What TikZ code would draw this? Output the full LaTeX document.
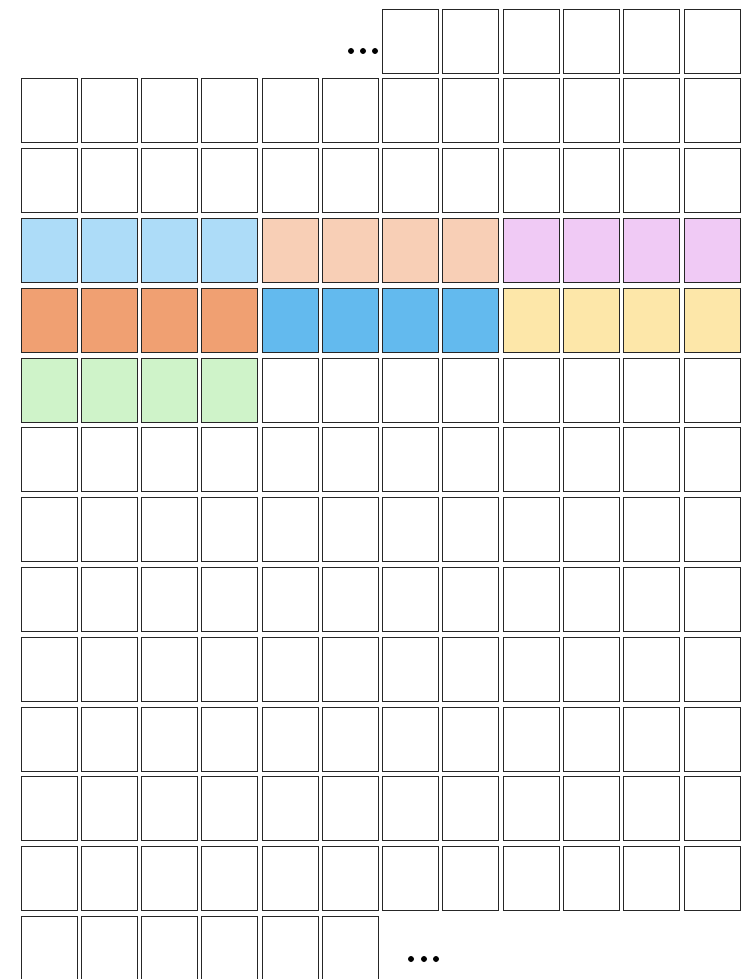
\documentclass[tikz,border=0pt]{standalone}
\definecolor{lblue}{HTML}{ADDCF8}
\definecolor{peach}{HTML}{F8CFB6}
\definecolor{lav}{HTML}{F0CAF5}
\definecolor{orng}{HTML}{F0A072}
\definecolor{dblue}{HTML}{63BAEE}
\definecolor{yell}{HTML}{FDE7A9}
\definecolor{lgreen}{HTML}{CFF3C9}
\begin{document}
\begin{tikzpicture}[x=1pt,y=-1pt,
  cell/.style={draw=black!85,line width=0.9pt,minimum width=56pt,minimum height=64pt,inner sep=0pt,outer sep=0pt},
  dotn/.style={circle,fill=black,minimum size=6pt,inner sep=0pt}]
\useasboundingbox (0,0) rectangle (747,979);
\clip (0,0) rectangle (747,979);
% top partial row
\foreach \c in {6,...,11}
  \node[cell] (c-0-\c) at ({21+60.27*\c+28},{9+32}) {};
% full rows 1..12
\foreach \r in {1,...,12}
  \foreach \c in {0,...,11}
    \node[cell] (c-\r-\c) at ({21+60.27*\c+28},{9+69.8*\r+32}) {};
% bottom partial row
\foreach \c in {0,...,5}
  \node[cell] (c-13-\c) at ({21+60.27*\c+28},{9+69.8*13+32}) {};
% colored cells
\foreach \c in {0,...,3} \node[cell,fill=lblue] (k-3-\c) at (c-3-\c) {};
\foreach \c in {4,...,7} \node[cell,fill=peach] (k-3-\c) at (c-3-\c) {};
\foreach \c in {8,...,11} \node[cell,fill=lav] (k-3-\c) at (c-3-\c) {};
\foreach \c in {0,...,3} \node[cell,fill=orng] (k-4-\c) at (c-4-\c) {};
\foreach \c in {4,...,7} \node[cell,fill=dblue] (k-4-\c) at (c-4-\c) {};
\foreach \c in {8,...,11} \node[cell,fill=yell] (k-4-\c) at (c-4-\c) {};
\foreach \c in {0,...,3} \node[cell,fill=lgreen] (k-5-\c) at (c-5-\c) {};
% ellipsis dots
\node[dotn] (t1) at (351,51) {};
\node[dotn] (t2) at (363,51) {};
\node[dotn] (t3) at (375,51) {};
\node[dotn] (b1) at (411,959) {};
\node[dotn] (b2) at (424,959) {};
\node[dotn] (b3) at (436,959) {};
\end{tikzpicture}
\end{document}
